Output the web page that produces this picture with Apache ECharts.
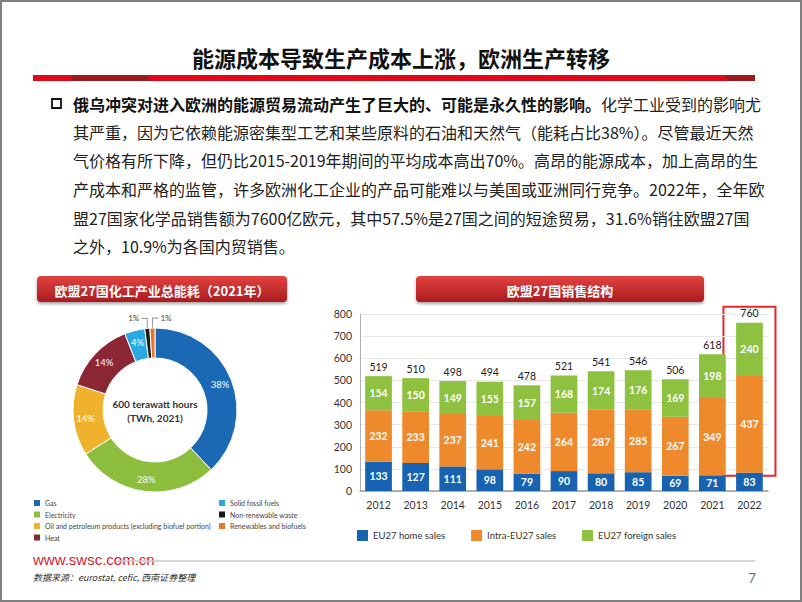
<!DOCTYPE html>
<html>
<head>
<meta charset="utf-8">
<script src="https://cdn.jsdelivr.net/npm/echarts@6/dist/echarts.min.js"></script>
<style>
html,body{margin:0;padding:0;background:#fff;}
#main{width:802px;height:602px;}
</style>
</head>
<body>
<div id="main"></div>
<script>
// ---------- data ----------
const slideTitle = '能源成本导致生产成本上涨，欧洲生产转移';
const bulletBold = '俄乌冲突对进入欧洲的能源贸易流动产生了巨大的、可能是永久性的影响。';
const bulletLines = [
  '化学工业受到的影响尤',
  '其严重，因为它依赖能源密集型工艺和某些原料的石油和天然气（能耗占比38%）。尽管最近天然',
  '气价格有所下降，但仍比2015-2019年期间的平均成本高出70%。高昂的能源成本，加上高昂的生',
  '产成本和严格的监管，许多欧洲化工企业的产品可能难以与美国或亚洲同行竞争。2022年，全年欧',
  '盟27国家化学品销售额为7600亿欧元，其中57.5%是27国之间的短途贸易，31.6%销往欧盟27国',
  '之外，10.9%为各国内贸销售。'
];
const leftHeader = '欧盟27国化工产业总能耗（2021年）';
const rightHeader = '欧盟27国销售结构';
const donutCenterLines = ['600 terawatt hours', '(TWh, 2021)'];
const energyNames = ['Gas', 'Electricity', 'Oil and petroleum products (excluding biofuel portion)', 'Heat',
  'Solid fossil fuels', 'Non-renewable waste', 'Renewables and biofuels'];
const energyShares = [38, 28, 14, 14, 4, 1, 1];
const energyColors = ['#1b69b5', '#8cbd3c', '#f0b12d', '#8b2635', '#2aa8e0', '#1a1a1a', '#e8772a'];

const years = ['2012','2013','2014','2015','2016','2017','2018','2019','2020','2021','2022'];
const seriesNames = ['EU27 home sales', 'Intra-EU27 sales', 'EU27 foreign sales'];
const homeSales = [133, 127, 111, 98, 79, 90, 80, 85, 69, 71, 83];
const intraSales = [232, 233, 237, 241, 242, 264, 287, 285, 267, 349, 437];
const foreignSales = [154, 150, 149, 155, 157, 168, 174, 176, 169, 198, 240];
const totalSales = [519, 510, 498, 494, 478, 521, 541, 546, 506, 618, 760];
const barColors = ['#1763b1', '#ef8a2c', '#8dc13f'];
const highlightYear = '2022';

const footerSite = 'www.swsc.com.cn';
const footerSource = '数据来源：eurostat, cefic, 西南证券整理';
const pageNo = '7';

// ---------- chart ----------
const CJK = '"Noto Sans CJK SC", "Noto Sans", sans-serif';
const LAT = 'Lato, "Noto Sans", sans-serif';
const chart = echarts.init(document.getElementById('main'), null, {renderer: 'svg', width: 802, height: 602});

const bulletTextEls = bulletLines.map((t, i) => {
  const ys = [104, 132, 160, 189, 218, 246];
  if (i === 0) {
    return {type: 'text', x: 73, y: ys[i], style: {
      text: '{b|' + bulletBold + '}{n|' + t + '}',
      rich: {b: {fontFamily: CJK, fontSize: 16, fontWeight: 'bold', fill: '#111'},
             n: {fontFamily: CJK, fontSize: 16, fill: '#222'}},
      verticalAlign: 'middle', textAlign: 'left'}};
  }
  return {type: 'text', x: 73, y: ys[i], style: {text: t, fontFamily: CJK, fontSize: 16, fill: '#222',
    verticalAlign: 'middle', textAlign: 'left'}};
});

function header(x, y, w, h, text) {
  return [{
    type: 'rect', shape: {x: x, y: y, width: w, height: h, r: 4},
    style: {fill: new echarts.graphic.LinearGradient(0, 0, 0, 1, [
      {offset: 0, color: '#e2423f'}, {offset: 1, color: '#a91b1f'}]),
      shadowBlur: 3, shadowOffsetY: 2, shadowColor: 'rgba(0,0,0,0.35)'}
  }, {
    type: 'text', x: x + w / 2, y: y + h / 2 + 1,
    style: {text: text, fontFamily: CJK, fontSize: 13, fontWeight: 'bold', fill: '#fff',
      textAlign: 'center', verticalAlign: 'middle'}
  }];
}

const graphics = [
  {type: 'rect', shape: {x: 1, y: 1, width: 800, height: 600}, style: {fill: 'none', stroke: '#808080', lineWidth: 2}},
  {type: 'text', x: 401, y: 57, style: {text: slideTitle, fontFamily: CJK, fontSize: 22, fontWeight: 'bold',
    fill: '#111', textAlign: 'center', verticalAlign: 'middle'}},
  {type: 'rect', shape: {x: 33, y: 75, width: 722, height: 6}, style: {fill: '#e1081a'}},
  {type: 'polygon', shape: {points: [[72, 75], [146, 75], [152, 81], [72, 81]]}, style: {fill: '#9a1a1e'}},
  {type: 'polygon', shape: {points: [[723, 75], [755, 75], [755, 81], [729, 81]]}, style: {fill: '#9a1a1e'}},
  {type: 'rect', shape: {x: 52, y: 99, width: 9, height: 9}, style: {fill: 'none', stroke: '#111', lineWidth: 1.8}},
  ...bulletTextEls,
  ...header(37, 276, 250, 26, leftHeader),
  ...header(416, 276, 288, 26, rightHeader),
  {type: 'text', x: 155, y: 404, style: {text: donutCenterLines[0], fontFamily: LAT, fontSize: 10, fontWeight: 'bold',
    fill: '#333', textAlign: 'center', verticalAlign: 'middle'}},
  {type: 'text', x: 155, y: 418, style: {text: donutCenterLines[1], fontFamily: LAT, fontSize: 10, fontWeight: 'bold',
    fill: '#333', textAlign: 'center', verticalAlign: 'middle'}},
  {type: 'text', x: 33, y: 559, style: {text: footerSite, fontFamily: 'Arial, "Liberation Sans", sans-serif', fontSize: 15,
    fill: '#d31f2f', textAlign: 'left', verticalAlign: 'middle'}},
  {type: 'line', shape: {x1: 117, y1: 561, x2: 755, y2: 561}, style: {stroke: '#c8c8c8', lineWidth: 1.5}},
  {type: 'text', x: 33, y: 577, style: {text: footerSource, fontFamily: CJK, fontSize: 9, fontStyle: 'italic',
    fill: '#333', textAlign: 'left', verticalAlign: 'middle'}},
  {type: 'text', x: 752, y: 577, style: {text: pageNo, fontFamily: LAT, fontSize: 14, fill: '#777',
    textAlign: 'center', verticalAlign: 'middle'}}
];

const valueLabel = {show: true, position: 'inside', color: '#fff', fontFamily: LAT, fontSize: 10.5, fontWeight: 'bold'};
const smallLegendText = {fontFamily: LAT, fontSize: 7, color: '#444', padding: [0, 0, 0, -1]};

const option = {
  animation: false,
  backgroundColor: '#fff',
  graphic: graphics,
  legend: [{
    left: 32, top: 498, orient: 'vertical', itemWidth: 8, itemHeight: 8, itemGap: 1.5, padding: 0,
    icon: 'rect', selectedMode: false, textStyle: smallLegendText,
    data: energyNames.slice(0, 4)
  }, {
    left: 217, top: 498, orient: 'vertical', itemWidth: 8, itemHeight: 8, itemGap: 1.5, padding: 0,
    icon: 'rect', selectedMode: false, textStyle: smallLegendText,
    data: energyNames.slice(4)
  }, {
    left: 357, top: 530, orient: 'horizontal', itemWidth: 11, itemHeight: 11, itemGap: 26, padding: 0,
    icon: 'rect', selectedMode: false,
    textStyle: {fontFamily: LAT, fontSize: 9.5, color: '#333'},
    data: seriesNames
  }],
  grid: {left: 360, right: 34, top: 314, bottom: 111, containLabel: false},
  xAxis: {
    type: 'category', data: years,
    axisLine: {lineStyle: {color: '#9a9a9a', width: 1.5}},
    axisTick: {show: false},
    axisLabel: {color: '#333', fontFamily: LAT, fontSize: 10.5, margin: 8}
  },
  yAxis: {
    type: 'value', min: 0, max: 800, interval: 100,
    axisLine: {show: true, lineStyle: {color: '#b0b0b0'}},
    splitLine: {lineStyle: {color: '#e8e8e8'}},
    axisLabel: {color: '#333', fontFamily: LAT, fontSize: 10.5, margin: 8}
  },
  series: [
    {name: seriesNames[0], type: 'bar', stack: 'sales', data: homeSales, barWidth: '72%',
      itemStyle: {color: barColors[0]}, label: valueLabel},
    {name: seriesNames[1], type: 'bar', stack: 'sales', data: intraSales,
      itemStyle: {color: barColors[1]}, label: valueLabel},
    {name: seriesNames[2], type: 'bar', stack: 'sales', data: foreignSales,
      itemStyle: {color: barColors[2]}, label: valueLabel},
    {name: 'Total', type: 'bar', stack: 'sales', data: years.map(() => 0), itemStyle: {color: 'transparent'},
      label: {show: true, position: 'top', distance: 4, color: '#222', fontFamily: LAT, fontSize: 10.5,
        formatter: p => String(totalSales[p.dataIndex])}},
    {
      name: 'energy', type: 'pie', center: [155, 410], radius: [52, 82], startAngle: 90, clockwise: true,
      avoidLabelOverlap: false,
      itemStyle: {borderColor: '#fff', borderWidth: 1},
      label: {show: true, position: 'inside', color: '#fff', fontFamily: LAT, fontSize: 9.5,
        formatter: p => p.value + '%'},
      labelLine: {show: false},
      labelLayout: function (p) {
        if (p.dataIndex === 5 || p.dataIndex === 6) {
          const pts = p.labelLinePoints;
          if (!pts) return {};
          const s = pts[0];
          const up = 10;
          if (p.dataIndex === 5) {
            return {x: s[0] - 8, y: s[1] - up, align: 'right', verticalAlign: 'middle',
              labelLinePoints: [s, [s[0], s[1] - up], [s[0] - 6, s[1] - up]]};
          }
          return {x: s[0] + 8, y: s[1] - up, align: 'left', verticalAlign: 'middle',
            labelLinePoints: [s, [s[0], s[1] - up], [s[0] + 6, s[1] - up]]};
        }
        return {};
      },
      data: energyNames.map((n, i) => {
        const d = {name: n, value: energyShares[i], itemStyle: {color: energyColors[i]}};
        if (i >= 5) {
          d.label = {position: 'outside', color: '#444', fontSize: 8};
          d.labelLine = {show: true, length: 6, length2: 6, lineStyle: {color: '#777', width: 0.8}};
        }
        return d;
      })
    }
  ]
};
chart.setOption(option);

// highlight box around the last year, positioned from the chart's own scales
const cx = chart.convertToPixel({xAxisIndex: 0}, highlightYear);
const idx = years.indexOf(highlightYear);
const yTop = chart.convertToPixel({yAxisIndex: 0}, totalSales[idx]);
const yBot = chart.convertToPixel({yAxisIndex: 0}, homeSales[idx]);
const halfW = 26;
chart.setOption({graphic: graphics.concat([{
  type: 'rect', shape: {x: cx - halfW, y: yTop - 16, width: halfW * 2, height: (yBot + 3) - (yTop - 16)},
  style: {fill: 'none', stroke: '#e8262b', lineWidth: 2}
}])});
</script>
</body>
</html>
